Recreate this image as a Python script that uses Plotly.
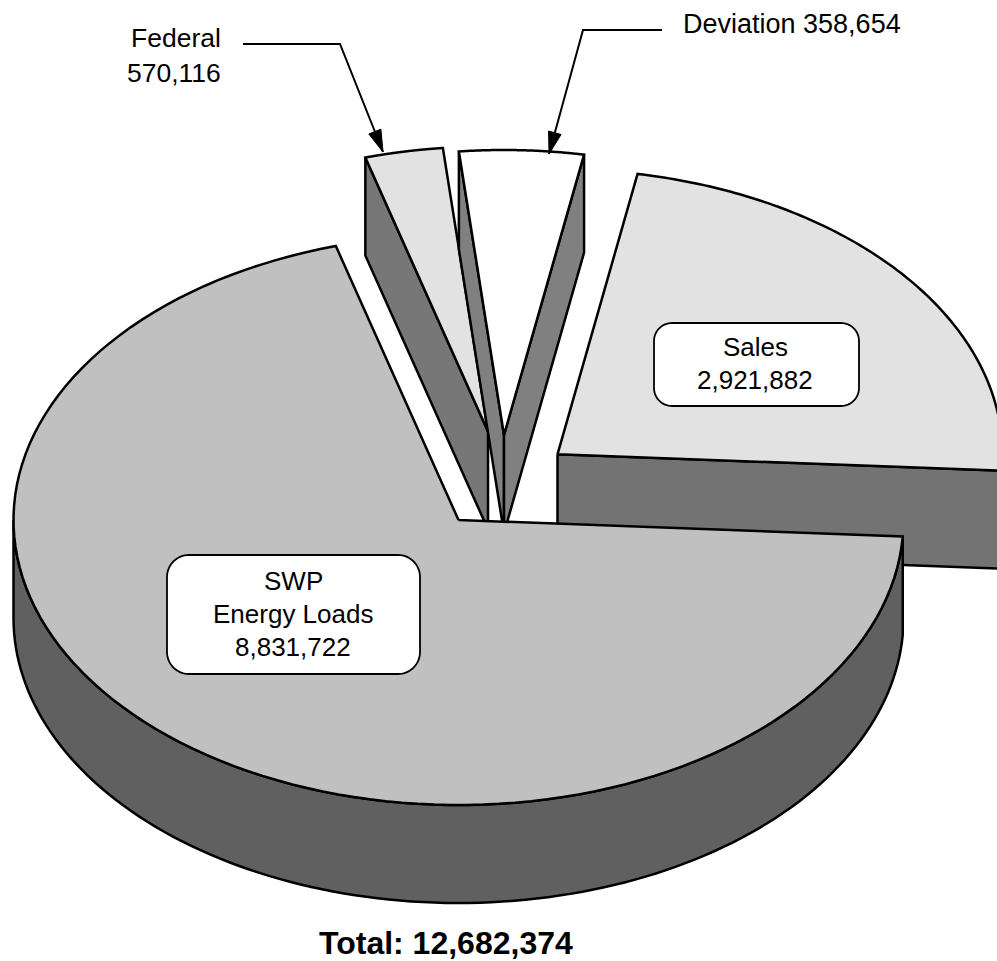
import math
import plotly.graph_objects as go

# Slices clockwise from the top. The wedge under the "Federal" leader is drawn
# with the narrower sweep and the one under "Deviation" with the wider sweep,
# as the picture shows them.
slice_names = ["Federal", "Deviation", "Sales", "SWP Energy Loads"]
slice_sweep_values = [358654, 570116, 2921882, 8831722]
label_federal = 570116
label_deviation = 358654
label_sales = 2921882
label_swp = 8831722
total_value = 12682374

# Look of the picture
top_colors = ["#e2e2e2", "#ffffff", "#e2e2e2", "#c0c0c0"]
face_colors = ["#777777", "#808080", "#737373", "#606060"]
apex_x = [488, 504, 557.5, 458.5]
apex_y = [431.5, 435, 454.3, 520]
RX, RY, DEPTH = 445, 285, 98
START_ANGLE = 106.0

fig = go.Figure()


def poly(xs, ys, fill=None, lw=2.5):
    fig.add_trace(go.Scatter(
        x=xs, y=ys, mode="lines", line=dict(color="black", width=lw, simplify=False),
        fill="toself" if fill else "none", fillcolor=fill, hoverinfo="skip",
        showlegend=False))


def rim(i, a0, a1, drop=0, n=120):
    xs, ys = [], []
    for k in range(n + 1):
        a = math.radians(a0 + (a1 - a0) * k / n)
        xs.append(apex_x[i] + RX * math.cos(a))
        ys.append(apex_y[i] - RY * math.sin(a) + drop)
    return xs, ys


def round_box(x0, y0, x1, y1, r):
    xs, ys = [], []
    for cx, cy, a0 in [(x1 - r, y0 + r, -90), (x1 - r, y1 - r, 0), (x0 + r, y1 - r, 90), (x0 + r, y0 + r, 180)]:
        for k in range(17):
            a = math.radians(a0 + 90 * k / 16)
            xs.append(cx + r * math.cos(a))
            ys.append(cy + r * math.sin(a))
    poly(xs + xs[:1], ys + ys[:1], "#ffffff", 1.8)


def leader(points):
    poly([p[0] for p in points], [p[1] for p in points], None, 2)
    (x0, y0), (x1, y1) = points[-2], points[-1]
    d = math.hypot(x1 - x0, y1 - y0)
    ux, uy = (x1 - x0) / d, (y1 - y0) / d
    bx, by = x1 - 22 * ux, y1 - 22 * uy
    poly([x1, bx - 6.5 * uy, bx + 6.5 * uy, x1], [y1, by + 6.5 * ux, by - 6.5 * ux, y1], "#000000", 1)


total = sum(slice_sweep_values)
bounds = [START_ANGLE]
for v in slice_sweep_values:
    bounds.append(bounds[-1] - 360 * v / total)

# Slices back to front: Sales, Federal, Deviation, SWP
for i in [2, 0, 1, 3]:
    a0, a1 = bounds[i], bounds[i + 1]
    ax, ay = apex_x[i], apex_y[i]
    if i == 3:
        # visible part of the outer wall: lower half of the rim
        tx, ty = rim(i, a0, -180)
        bx, by = rim(i, -180, a0, DEPTH)
        poly(tx + bx + tx[:1], ty + by + ty[:1], face_colors[i])
    # cut faces that look toward the viewer
    for a, visible in ((a0, math.cos(math.radians(a0)) < 0), (a1, math.cos(math.radians(a1)) > 0)):
        if not visible or i == 3:
            continue
        ex = ax + RX * math.cos(math.radians(a))
        ey = ay - RY * math.sin(math.radians(a))
        poly([ax, ex, ex, ax, ax], [ay, ey, ey + DEPTH, ay + DEPTH, ay], face_colors[i])
    # top
    xs, ys = rim(i, a0, a1)
    poly([ax] + xs + [ax], [ay] + ys + [ay], top_colors[i])

leader([(243, 44), (340, 44), (383, 152)])
leader([(662, 30), (583, 30), (549, 154)])
round_box(654, 323, 859, 406, 18)
round_box(167, 555, 420, 674, 22)


def text(s, x, y, anchor="center", size=26, bold=False):
    fig.add_annotation(x=x, y=y, xref="x", yref="y", text=f"<b>{s}</b>" if bold else s,
                       showarrow=False, xanchor=anchor, yanchor="middle",
                       font=dict(family="Liberation Sans", size=size, color="#000000"))


text("Federal", 222.5, 38, "right", size=26.5)
text(f"{label_federal:,}", 222.5, 73, "right", size=26.5)
text(f"Deviation {label_deviation:,}", 680.5, 23.5, "left", size=27)
text("Sales", 755, 346.5)
text(f"{label_sales:,}", 755, 379.5)
text("SWP", 293, 581)
text("Energy Loads", 293, 614)
text(f"{label_swp:,}", 293, 647)
text(f"Total: {total_value:,}", 445.5, 942.5, size=32, bold=True)

fig.update_layout(
    width=997, height=961, margin=dict(l=0, r=0, t=0, b=0),
    paper_bgcolor="#ffffff", plot_bgcolor="#ffffff", showlegend=False,
    xaxis=dict(range=[0, 997], visible=False, fixedrange=True),
    yaxis=dict(range=[961, 0], visible=False, fixedrange=True),
)
fig.write_html("out.html", post_script="document.body.style.margin='0';",
               config={"displayModeBar": False})
